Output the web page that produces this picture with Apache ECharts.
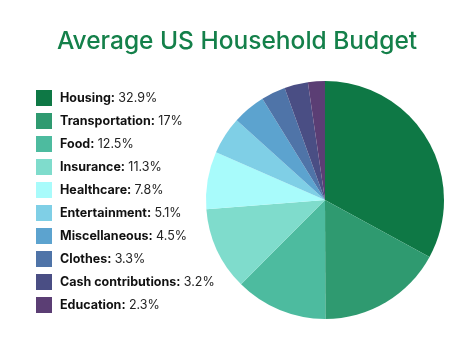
<!DOCTYPE html>
<html><head><meta charset="utf-8">
<script src="https://cdn.jsdelivr.net/npm/echarts@6/dist/echarts.min.js"></script>
<style>html,body{margin:0;padding:0;background:#fff}#c{width:474px;height:355px}</style>
</head><body><div id="c"></div>
<script>
const categories = ["Housing","Transportation","Food","Insurance","Healthcare","Entertainment","Miscellaneous","Clothes","Cash contributions","Education"];
const values = [32.9,17,12.5,11.3,7.8,5.1,4.5,3.3,3.2,2.3];
const valueLabels = ["32.9%","17%","12.5%","11.3%","7.8%","5.1%","4.5%","3.3%","3.2%","2.3%"];
const colors = ["#0e7845","#2f9a70","#4dbb9f","#7fdccc","#a8fbfb","#7fcfe6","#5ca3cf","#4f74a8","#4a4e84","#5b3e74"];

const chart = echarts.init(document.getElementById('c'));
chart.setOption({
  backgroundColor:'#fff',
  color: colors,
  title:{text:'Average US Household Budget',left:'center',top:24,
    textStyle:{color:'#14804a',fontSize:24.5,fontWeight:500,fontFamily:'Inter'}},
  legend:{orient:'vertical',left:31,top:85,itemWidth:16,itemHeight:16,itemGap:7,
    icon:'rect',selectedMode:false,
    formatter:function(name){const i=categories.indexOf(name);return '{b|'+name+':} {v|'+valueLabels[i]+'}';},
    textStyle:{rich:{
      b:{fontFamily:'Inter',fontWeight:700,fontSize:12.5,color:'#111',padding:[0,0,0,3]},
      v:{fontFamily:'Inter',fontWeight:400,fontSize:12.5,color:'#222'}}}},
  series:[{type:'pie',center:[325,200],radius:[0,119],startAngle:90,clockwise:true,
    label:{show:false},labelLine:{show:false},
    itemStyle:{borderWidth:0},
    emphasis:{disabled:true},
    data:categories.map((c,i)=>({name:c,value:values[i]}))}]
});
</script></body></html>
